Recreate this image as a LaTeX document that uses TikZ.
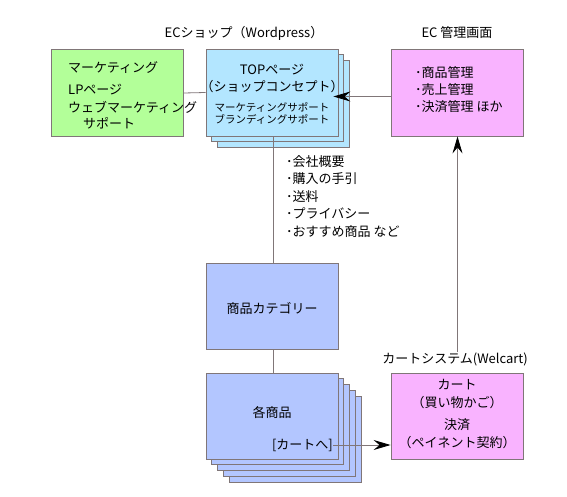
\documentclass[tikz,border=0pt]{standalone}
\usepackage{fontspec}
\setmainfont{Noto Sans CJK JP}
\usetikzlibrary{arrows.meta,calc}
\definecolor{gfill}{HTML}{B3FF99}
\definecolor{tfill}{HTML}{B3E6FF}
\definecolor{pfill}{HTML}{F9B3FF}
\definecolor{cfill}{HTML}{B3C6FF}
\definecolor{bord}{HTML}{807678}
\tikzset{
  box/.style={draw=bord, line width=0.9pt, minimum width=132pt, minimum height=87pt, inner sep=0pt},
  txt/.style={inner sep=0pt, font=\fontsize{13pt}{15pt}\selectfont},
  stxt/.style={inner sep=0pt, font=\fontsize{10.5pt}{12pt}\selectfont},
  conn/.style={draw=bord, line width=0.8pt},
  arr/.style={conn, -{Stealth[length=17pt,width=10pt,inset=6pt,color=black,fill=black]}}
}
\begin{document}
\begin{tikzpicture}[x=1pt,y=-1pt]
\useasboundingbox[fill=white] (0,0) rectangle (567,497);
% labels
\node[txt] (lshop) at (244,33) {ECショップ（Wordpress）};
\node[txt] (lec) at (457,33) {EC 管理画面};
% green box
\node[box, fill=gfill] (green) at (117.5,93) {};
\node[txt, anchor=west] (g1) at (68,68) {マーケティング};
\node[txt, anchor=west] (g2) at (68,90) {LPページ};
\node[txt, anchor=west] (g3) at (68,107) {ウェブマーケティング};
\node[txt, anchor=west] (g4) at (83,123) {サポート};
% top box with copies
\foreach \k in {2,1}{
  \node[box, fill=tfill] (topc\k) at (272+5.5*\k,92.5+5.5*\k) {};
}
\node[box, fill=tfill] (top) at (272,92.5) {};
\node[txt] (t1) at (272,70) {TOPページ};
\node[txt] (t2) at (272,87) {（ショップコンセプト）};
\node[stxt] (t3) at (272,107) {マーケティングサポート};
\node[stxt] (t4) at (272,119) {ブランディングサポート};
% EC box
\node[box, fill=pfill] (ec) at (457.5,92.5) {};
\node[txt, anchor=west] (e1) at (415,73) {･商品管理};
\node[txt, anchor=west] (e2) at (415,90) {･売上管理};
\node[txt, anchor=west] (e3) at (415,107) {･決済管理 ほか};
% bullet list
\node[txt, anchor=north west, align=left, font=\fontsize{13pt}{17.5pt}\selectfont] (list) at (286,155)
  {･会社概要\\･購入の手引\\･送料\\･プライバシー\\･おすすめ商品 など};
% category
\node[box, fill=cfill, minimum height=86pt] (cat) at (272,306) {};
\node[txt] (cattxt) at (272,308) {商品カテゴリー};
% products with copies
\foreach \k in {4,3,2,1}{
  \node[box, fill=cfill, minimum height=86pt] (prodc\k) at (272+5.75*\k,416+5.75*\k) {};
}
\node[box, fill=cfill, minimum height=86pt] (prod) at (272,416) {};
\node[txt] (ptxt) at (272,413) {各商品};
\node[txt, anchor=east] (tocart) at (333,445) {[カートへ]};
% cart
\node[txt] (lcart) at (455,359) {カートシステム(Welcart)};
\node[box, fill=pfill, minimum height=86pt] (cart) at (457,416) {};
\node[txt] (c1) at (457,385) {カート};
\node[txt] (c2) at (457,403) {（買い物かご）};
\node[txt] (c3) at (457,425) {決済};
\node[txt] (c4) at (457,443) {（ペイネント契約）};
% connectors
\draw[conn] (green.east) -- (top.west);
\draw[arr] ($(ec.west)+(0,4)$) -- ($(top.east)+(-5,4)$);
\draw[conn] ($(top.south)+(1,0)$) -- ($(cat.north)+(1,0)$);
\draw[conn] ($(cat.south)+(1,0)$) -- ($(prod.north)+(1,0)$);
\draw[arr] (tocart.east) -- (tocart.east -| cart.west);
\draw[arr] (ec.south |- lcart.north) -- (ec.south);
\end{tikzpicture}
\end{document}
